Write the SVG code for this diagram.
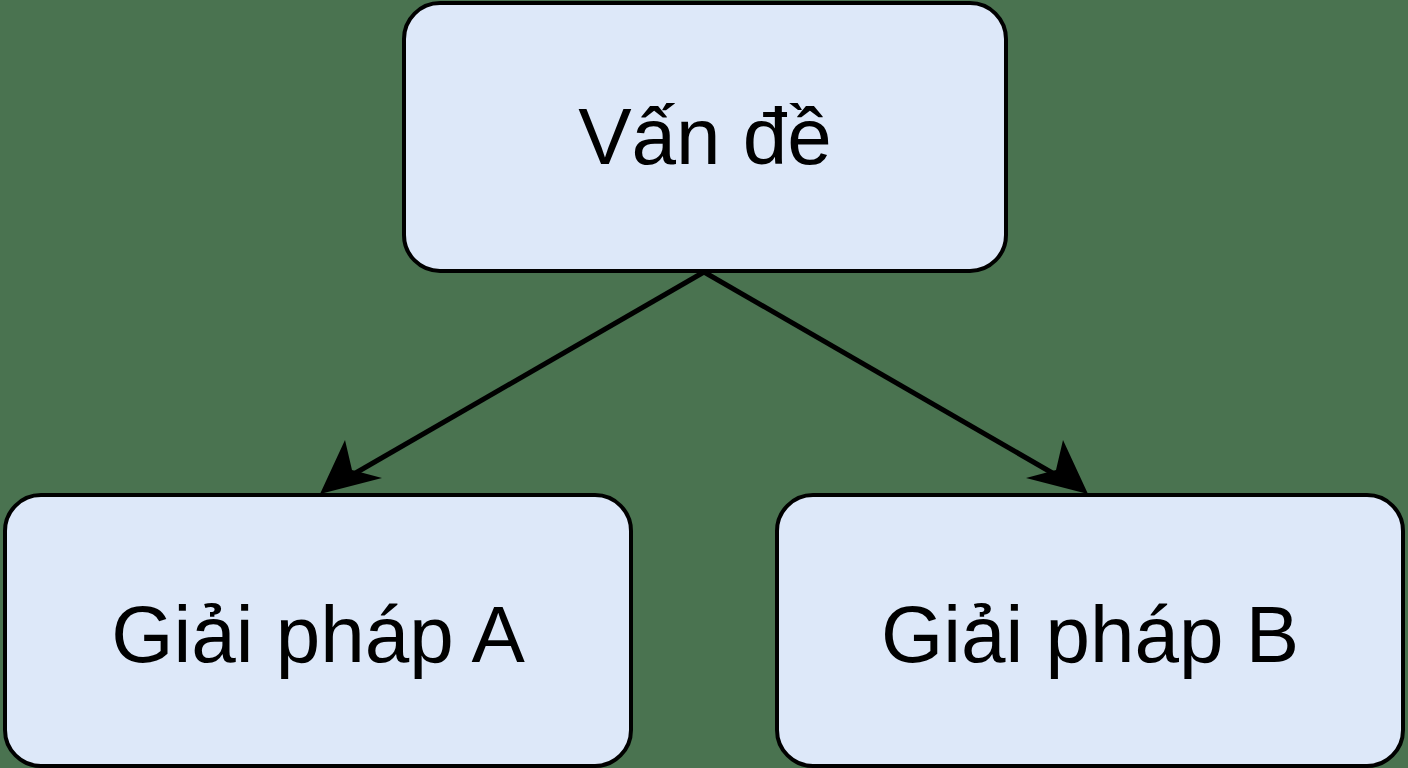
<svg xmlns="http://www.w3.org/2000/svg" width="1408" height="768" viewBox="0 0 1408 768">
<defs>
<style>
.box{fill:#dde8f9;stroke:#000;stroke-width:4}
.t{font-family:"Liberation Sans",Arial,sans-serif;font-size:80px;text-anchor:middle;fill:#000}
.c{stroke:#000;stroke-width:5;fill:none}
</style>
<marker id="ah" viewBox="0 0 20 16" refX="19" refY="8" markerWidth="12" markerHeight="10" markerUnits="userSpaceOnUse" orient="auto" style="overflow:visible">
<path d="M0,0 L20,8 L0,16 L5,8 Z" fill="#000" transform="scale(3)"/>
</marker>
</defs>
<rect width="1408" height="768" fill="#4a7350"/>
<g id="connectors">
<line class="c" x1="704" y1="272" x2="340" y2="482"/>
<path d="M320,494 L345,440 L352,470 L382,478 Z" fill="#000"/>
<line class="c" x1="704" y1="272" x2="1068" y2="482"/>
<path d="M1088,494 L1026,478 L1056,470 L1063,440 Z" fill="#000"/>
</g>
<g id="n1"><rect class="box" x="404" y="3" width="602" height="268" rx="36"/><text class="t" x="705" y="164">Vấn đề</text></g>
<g id="n2"><rect class="box" x="5" y="495" width="626" height="271" rx="36"/><text class="t" x="318" y="662">Giải pháp A</text></g>
<g id="n3"><rect class="box" x="777" y="495" width="626" height="271" rx="36"/><text class="t" x="1090" y="662">Giải pháp B</text></g>
</svg>
